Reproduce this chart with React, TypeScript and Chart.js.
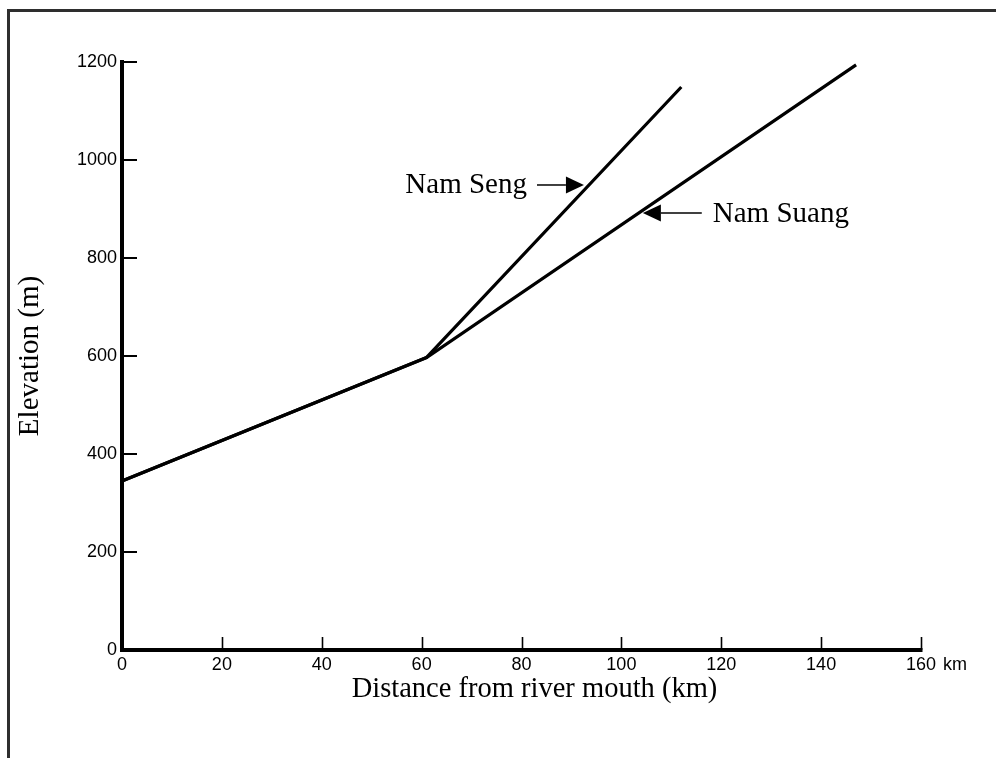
import React, { useEffect, useRef } from "react";
import { Chart, registerables } from "chart.js";

Chart.register(...registerables);

// ---- data ----
const sengDistance = [0, 61, 112];
const sengElevation = [345, 597, 1149];
const suangDistance = [0, 61, 147];
const suangElevation = [345, 597, 1194];

const xMin = 0;
const xMax = 160;
const xStep = 20;
const yMin = 0;
const yMax = 1200;
const yStep = 200;
const xUnit = "km";

const xTitle = "Distance from river mouth (km)";
const yTitle = "Elevation (m)";

// annotation arrows (data units)
const arrowLabels = ["Nam Seng", "Nam Suang"];
const arrowTipX = [92.5, 104.3];
const arrowTailX = [83.1, 116.1];
const arrowY = [949, 892];

const SERIF = "'Liberation Serif', 'Times New Roman', Times, serif";
const SANS = "'Liberation Sans', Arial, Helvetica, sans-serif";
const TICK_SIZE = 18;

const toPoints = (xs: number[], ys: number[]) => xs.map((x, i) => ({ x, y: ys[i] }));

const decorPlugin = {
  id: "decor",
  afterDraw(chart: any) {
    const { ctx, chartArea } = chart;
    const xs = chart.scales.x;
    const ys = chart.scales.y;
    const left = chartArea.left;
    const bottom = chartArea.bottom;
    const xEnd = xs.getPixelForValue(xMax);
    const yTop = ys.getPixelForValue(yMax);
    ctx.save();
    ctx.strokeStyle = "#000";
    ctx.fillStyle = "#000";
    ctx.lineCap = "butt";

    // inward ticks
    ctx.lineWidth = 1.6;
    xs.ticks.forEach((t: any) => {
      if (t.value <= xMin) return;
      const px = Math.round(xs.getPixelForValue(t.value)) + 0.5;
      ctx.beginPath();
      ctx.moveTo(px, bottom);
      ctx.lineTo(px, bottom - 13);
      ctx.stroke();
    });
    ctx.lineWidth = 2;
    ys.ticks.forEach((t: any) => {
      if (t.value <= yMin) return;
      const py = Math.round(ys.getPixelForValue(t.value));
      ctx.beginPath();
      ctx.moveTo(left, py);
      ctx.lineTo(left + 15, py);
      ctx.stroke();
    });

    // axes
    ctx.lineWidth = 4;
    ctx.beginPath();
    ctx.moveTo(left, yTop - 2);
    ctx.lineTo(left, bottom + 2);
    ctx.stroke();
    ctx.beginPath();
    ctx.moveTo(left - 2, bottom);
    ctx.lineTo(xEnd + 1.5, bottom);
    ctx.stroke();

    // unit after last x tick label
    ctx.font = `${TICK_SIZE}px ${SANS}`;
    ctx.textBaseline = "middle";
    ctx.textAlign = "left";
    const w160 = ctx.measureText(String(xMax)).width;
    ctx.fillText(xUnit, xEnd + w160 / 2 + 7, bottom + 4 + (TICK_SIZE * 1.2) / 2);

    // x title
    ctx.font = `28.5px ${SERIF}`;
    ctx.textAlign = "center";
    ctx.textBaseline = "alphabetic";
    ctx.fillText(xTitle, (left + xEnd) / 2 + 13, bottom + 47);

    // arrows + labels
    arrowLabels.forEach((label, i) => {
      const tip = xs.getPixelForValue(arrowTipX[i]);
      const tail = xs.getPixelForValue(arrowTailX[i]);
      const y = ys.getPixelForValue(arrowY[i]);
      const dir = tail < tip ? 1 : -1;
      const headLen = 18;
      ctx.lineWidth = 1.5;
      ctx.beginPath();
      ctx.moveTo(tail, y);
      ctx.lineTo(tip - dir * headLen, y);
      ctx.stroke();
      ctx.beginPath();
      ctx.moveTo(tip, y);
      ctx.lineTo(tip - dir * headLen, y - 8.5);
      ctx.lineTo(tip - dir * headLen, y + 8.5);
      ctx.closePath();
      ctx.fill();
      ctx.font = `29px ${SERIF}`;
      ctx.textBaseline = "alphabetic";
      if (dir === 1) {
        ctx.textAlign = "right";
        ctx.fillText(label, tail - 10, y + 8.5);
      } else {
        ctx.textAlign = "left";
        ctx.fillText(label, tail + 11, y + 9);
      }
    });
    ctx.restore();
  },
};

export default function App() {
  const ref = useRef<HTMLCanvasElement | null>(null);

  useEffect(() => {
    if (!ref.current) return;
    const chart = new Chart(ref.current, {
      type: "line",
      data: {
        datasets: [
          {
            label: arrowLabels[0],
            data: toPoints(sengDistance, sengElevation),
            borderColor: "#000",
            borderWidth: 3.2,
            pointRadius: 0,
            tension: 0,
            fill: false,
          },
          {
            label: arrowLabels[1],
            data: toPoints(suangDistance, suangElevation),
            borderColor: "#000",
            borderWidth: 3.2,
            pointRadius: 0,
            tension: 0,
            fill: false,
          },
        ],
      },
      options: {
        animation: false,
        responsive: false,
        devicePixelRatio: 1,
        layout: { padding: { top: 54, right: 75, left: 0, bottom: 0 } },
        plugins: {
          legend: { display: false },
          tooltip: { enabled: false },
        },
        scales: {
          x: {
            type: "linear",
            min: xMin,
            max: xMax,
            grid: { display: false, drawTicks: false },
            border: { display: false },
            ticks: {
              stepSize: xStep,
              padding: 4,
              color: "#000",
              font: { family: SANS, size: TICK_SIZE },
              maxRotation: 0,
              callback: (v: any) => String(v),
            },
            afterFit: (scale: any) => {
              scale.height = 100;
            },
          },
          y: {
            type: "linear",
            min: yMin,
            max: yMax,
            grid: { display: false, drawTicks: false },
            border: { display: false },
            ticks: {
              stepSize: yStep,
              padding: 5,
              color: "#000",
              font: { family: SANS, size: TICK_SIZE },
              callback: (v: any) => String(v),
            },
            title: {
              display: true,
              text: yTitle,
              color: "#000",
              font: { family: SERIF, size: 29, weight: "normal" },
              padding: { top: 5, bottom: 0 },
            },
            afterFit: (scale: any) => {
              scale.width = 114;
            },
          },
        },
      } as any,
      plugins: [decorPlugin],
    });
    return () => chart.destroy();
  }, []);

  return (
    <div style={{ position: "relative", width: 988, height: 742 }}>
      <div
        style={{
          position: "fixed",
          left: 7,
          top: 9,
          width: 989,
          height: 749,
          borderTop: "3px solid #2e2e2e",
          borderLeft: "3px solid #2e2e2e",
          boxSizing: "border-box",
          pointerEvents: "none",
        }}
      />
      <canvas
        ref={ref}
        width={988}
        height={742}
        style={{ position: "absolute", left: 0, top: 0, width: 988, height: 742 }}
      />
    </div>
  );
}
